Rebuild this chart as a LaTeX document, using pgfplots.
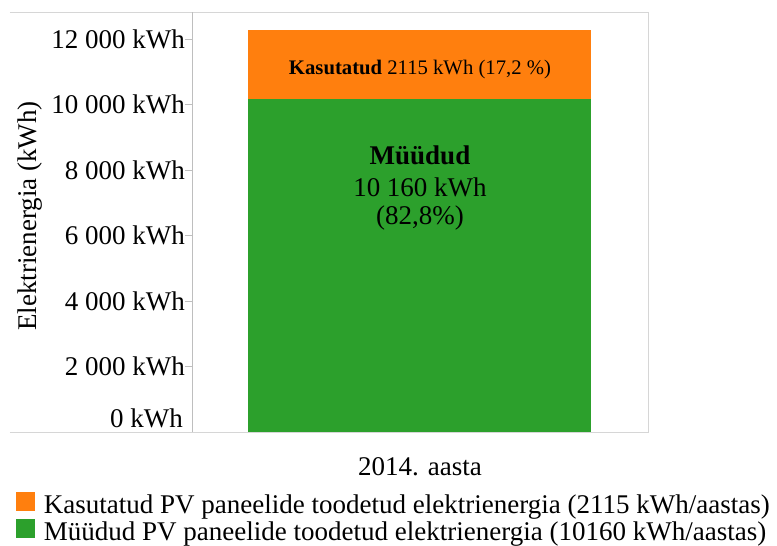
\documentclass[border=0pt]{standalone}
\usepackage{fontspec}
\setmainfont{Liberation Serif}
\usepackage{pgfplots}
\pgfplotsset{compat=1.18}
\definecolor{cOr}{HTML}{FF7F0E}
\definecolor{cGr}{HTML}{2CA02C}
\definecolor{lg}{HTML}{D6D6D6}
\definecolor{tg}{HTML}{BEBEBE}
\newcommand\fA{\fontsize{27}{32}\selectfont}
\begin{document}
\begin{tikzpicture}
\useasboundingbox (-192pt,-114pt) rectangle (585pt,432pt);
\begin{axis}[
  scale only axis, width=456pt, height=420pt,
  xmin=-0.5, xmax=0.5, ymin=0, ymax=12824,
  ybar stacked, bar width=343pt,
  clip=false,
  scaled y ticks=false,
  axis line style={draw=lg, line width=0.8pt},
  xtick={0}, xticklabels={2014. aasta},
  xtick style={draw=none},
  xticklabel style={font=\fA, inner sep=0pt, anchor=north, yshift=-18pt},
  ytick={0,2000,4000,6000,8000,10000,12000},
  yticklabels={,2 000 kWh,4 000 kWh,6 000 kWh,8 000 kWh,10 000 kWh,12 000 kWh},
  ytick pos=left, tick align=outside, major tick length=7pt,
  ytick style={draw=tg, line width=0.8pt},
  yticklabel style={font=\fA, inner sep=0pt, anchor=east},
  ylabel={Elektrienergia (kWh)},
  ylabel style={font=\fA, at={(rel axis cs:-0.3553,0.514)}, anchor=center, rotate=0},
  reverse legend,
  legend cell align=left,
  legend image code/.code={\fill[#1] (0pt,-4pt) rectangle (19pt,15pt);},
  legend style={at={(rel axis cs:0,0)}, anchor=north west, xshift=-176pt, yshift=-59.5pt,
    draw=none, fill=none, inner sep=0pt, outer sep=0pt, row sep=-0.5pt,
    font=\fA, nodes={inner sep=0pt, text height=19pt, text depth=6pt},
    /tikz/every odd column/.append style={column sep=9pt}},
]
\addplot[fill=cGr, draw=none] coordinates {(0,10160)};
\addlegendentry{Müüdud PV paneelide toodetud elektrienergia (10160 kWh/aastas)}
\addplot[fill=cOr, draw=none] coordinates {(0,2115)};
\addlegendentry{Kasutatud PV paneelide toodetud elektrienergia (2115 kWh/aastas)}
\draw[lg, line width=0.8pt] ([xshift=-182pt]rel axis cs:0,0) -- (rel axis cs:0,0);
\draw[lg, line width=0.8pt] ([xshift=-182pt]rel axis cs:0,1) -- (rel axis cs:0,1);
\draw[tg, line width=0.8pt] (rel axis cs:0,0) -- (rel axis cs:0,1);
\node[font=\fA, inner sep=0pt, anchor=east] at ([xshift=-9pt,yshift=14pt]rel axis cs:0,0) {0 kWh};
\end{axis}
\node[font=\fA, inner sep=0pt, anchor=center] at (228pt,277pt) {\textbf{Müüdud}};
\node[font=\fA, inner sep=0pt, anchor=center] at (228pt,245pt) {10 160 kWh};
\node[font=\fA, inner sep=0pt, anchor=center] at (228pt,214pt) {(82,8\%)};
\node[font=\fontsize{20.7}{24}\selectfont, inner sep=0pt, anchor=center] at (228pt,362pt) {\textbf{Kasutatud} 2115 kWh (17,2 \%)};
\end{tikzpicture}
\end{document}
